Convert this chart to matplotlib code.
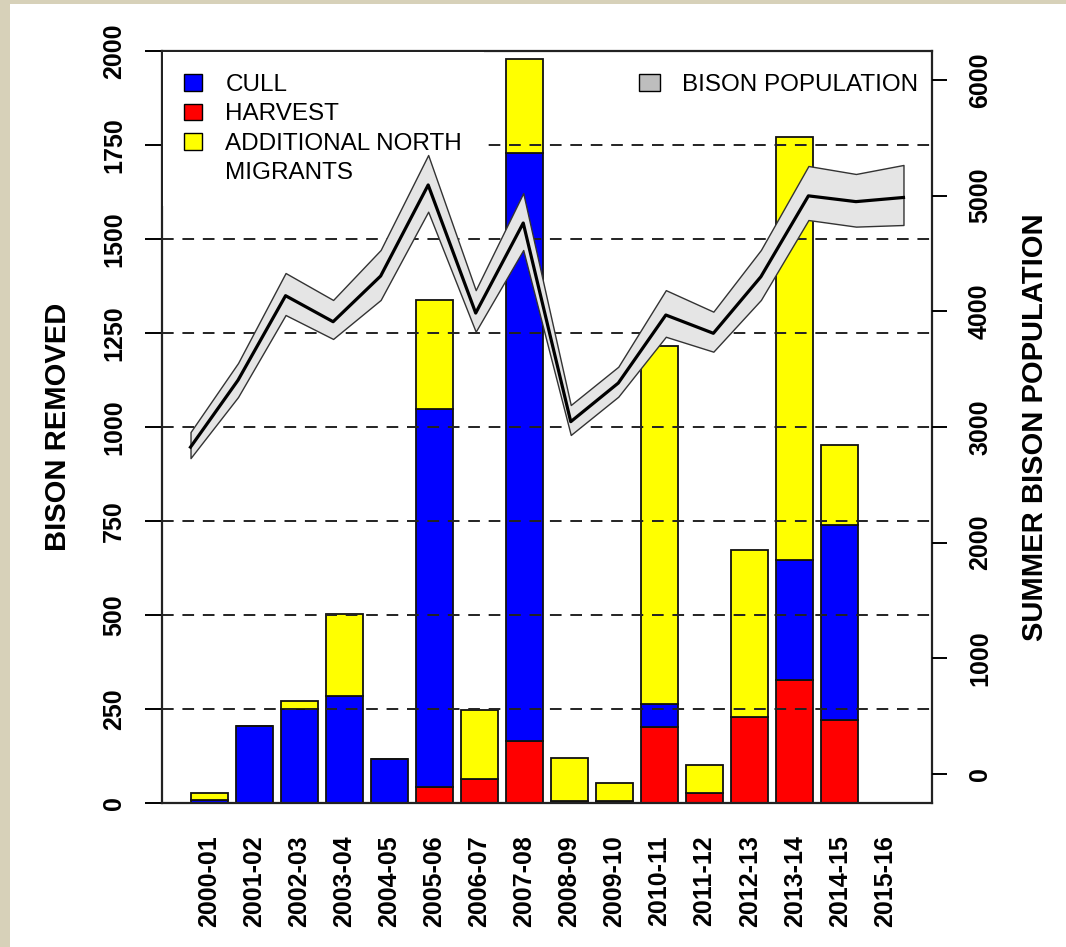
import numpy as np
import matplotlib
matplotlib.use("Agg")
import matplotlib.pyplot as plt
from matplotlib.patches import Patch, Rectangle

plt.rcParams['font.family'] = ['Liberation Sans', 'DejaVu Sans']

seasons = ["2000-01", "2001-02", "2002-03", "2003-04", "2004-05", "2005-06",
           "2006-07", "2007-08", "2008-09", "2009-10", "2010-11", "2011-12",
           "2012-13", "2013-14", "2014-15", "2015-16"]
harvest = [0, 0, 0, 0, 0, 42, 65, 166, 4, 4, 203, 27, 228, 327, 221, 0]
cull = [8, 206, 249, 285, 117, 1006, 0, 1564, 0, 0, 60, 0, 0, 319, 518, 0]
north = [18, 0, 23, 217, 0, 290, 182, 248, 117, 50, 952, 73, 445, 1125, 213, 0]

pop = [2826, 3405, 4135, 3910, 4305, 5092, 3985, 4763, 3046, 3380, 3968,
       3810, 4299, 4998, 4948, 4984]
pop_lo = [2731, 3259, 3968, 3761, 4098, 4861, 3824, 4530, 2931, 3262, 3780,
          3651, 4098, 4789, 4732, 4746]
pop_hi = [2956, 3553, 4331, 4098, 4530, 5351, 4183, 5022, 3190, 3521, 4183,
          3997, 4530, 5256, 5187, 5265]

left_ticks = [0, 250, 500, 750, 1000, 1250, 1500, 1750, 2000]
grid_vals = [250, 500, 750, 1000, 1250, 1500, 1750]
right_ticks = [0, 1000, 2000, 3000, 4000, 5000, 6000]

W, H = 1066, 947
fig = plt.figure(figsize=(W / 100, H / 100), dpi=100)
fig.patch.set_facecolor("white")
beige = "#d7d1b9"
fig.add_artist(Rectangle((0, 0), 10 / W, 1, transform=fig.transFigure,
                         facecolor=beige, edgecolor="none", zorder=-5))
fig.add_artist(Rectangle((0, 1 - 4 / H), 1, 4 / H, transform=fig.transFigure,
                         facecolor=beige, edgecolor="none", zorder=-5))

rect = [162 / W, 1 - 803 / H, 770 / W, 752 / H]
ax = fig.add_axes(rect)

n = len(seasons)
xb = 0.7 + 1.2 * np.arange(n)
h = np.array(harvest)
c = np.array(cull)
a = np.array(north)
bkw = dict(width=1.0, edgecolor="#111111", linewidth=1.3, zorder=2)
ax.bar(xb, h, color="#ff0000", **bkw)
ax.bar(xb, c, bottom=h, color="#0000ff", **bkw)
ax.bar(xb, a, bottom=h + c, color="#ffff00", **bkw)

for g in grid_vals:
    ax.axhline(g, color="#222222", lw=1.4, ls=(0, (6, 4.5)), zorder=3)

ax.set_xlim(-0.56, 19.96)
ax.set_ylim(0, 2000)
ax.set_yticks(left_ticks)
ax.set_yticklabels([str(v) for v in left_ticks], rotation=90, va="center",
                   fontsize=18, fontweight="bold")
ax.tick_params(axis="y", length=12, width=1.4, pad=14)
ax.set_xticks(xb)
ax.set_xticklabels(seasons, rotation=90, fontsize=18, fontweight="bold")
ax.tick_params(axis="x", length=0, pad=23)
for s in ax.spines.values():
    s.set_linewidth(1.6)
    s.set_color("#222222")

# legend with white box, under the population band
handles = [Patch(facecolor="#0000ff", edgecolor="black"),
           Patch(facecolor="#ff0000", edgecolor="black"),
           Patch(facecolor="#ffff00", edgecolor="black"),
           Patch(facecolor="none", edgecolor="none")]
labels = ["CULL", "HARVEST", "ADDITIONAL NORTH", "MIGRANTS"]
leg1 = ax.legend(handles, labels, loc="upper left",
                 bbox_to_anchor=(0.001, 1 - 1.5 / 752), frameon=True,
                 fancybox=False, facecolor="white", framealpha=1,
                 fontsize=17.5, handlelength=0.75, handleheight=0.66,
                 handletextpad=0.95, labelspacing=0.31, borderpad=0.88,
                 borderaxespad=0)
leg1.get_frame().set_linewidth(0)

# population on its own scale
ax2 = fig.add_axes(rect)
ax2.patch.set_visible(False)
xp = np.arange(1, n + 1)
ax2.fill_between(xp, pop_lo, pop_hi, facecolor="#e5e5e5", edgecolor="#333333",
                 linewidth=1.0, zorder=2)
ax2.plot(xp, pop, color="black", lw=2.3, zorder=3)
ax2.set_xlim(0.4, 16.6)
ax2.set_ylim(-250, 6250)
ax2.xaxis.set_visible(False)
ax2.yaxis.tick_right()
ax2.set_yticks(right_ticks)
ax2.set_yticklabels([str(v) for v in right_ticks], rotation=90, va="center",
                    fontsize=18, fontweight="bold")
ax2.tick_params(axis="y", length=11, width=1.4, pad=15)
for s in ax2.spines.values():
    s.set_visible(False)

leg2 = ax2.legend([Patch(facecolor="#bebebe", edgecolor="black")],
                  ["BISON POPULATION"], loc="upper right",
                  bbox_to_anchor=(756 / 770, 1 - 23 / 752), frameon=False,
                  fontsize=17.5, handlelength=0.85, handleheight=0.66,
                  handletextpad=0.9, borderpad=0, borderaxespad=0)

fig.text(58 / W, 1 - 427 / H, "BISON REMOVED", rotation=90, ha="center",
         va="center", fontsize=21, fontweight="bold")
fig.text(1035 / W, 1 - 427 / H, "SUMMER BISON POPULATION", rotation=90,
         ha="center", va="center", fontsize=21, fontweight="bold")

fig.savefig("out.png", dpi=100)
